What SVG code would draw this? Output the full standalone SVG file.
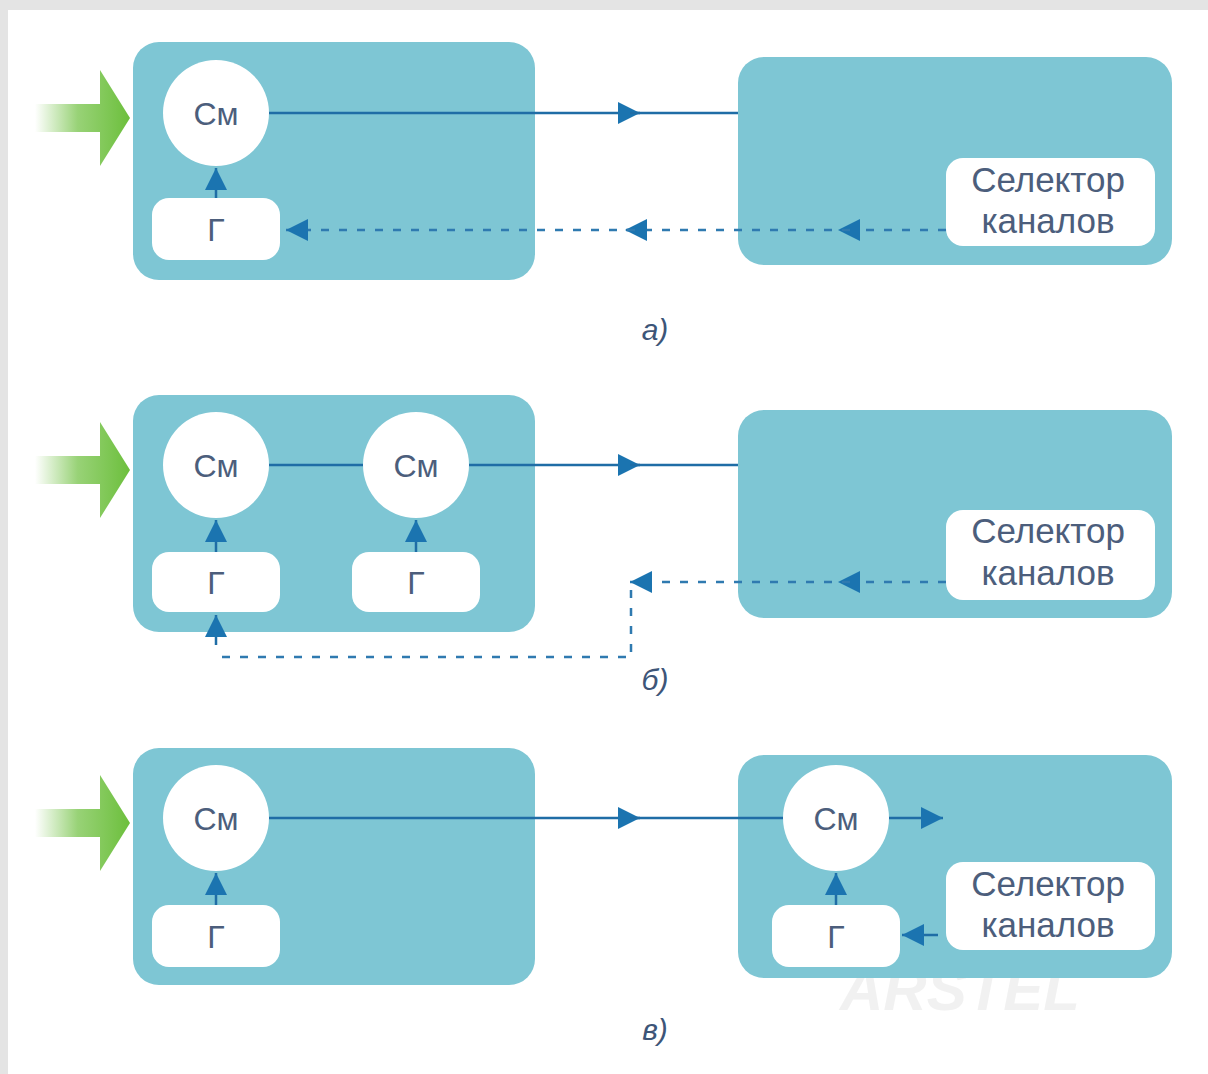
<svg xmlns="http://www.w3.org/2000/svg" width="1208" height="1074" viewBox="0 0 1208 1074">
<defs>
<linearGradient id="gArrow" x1="0" y1="0" x2="1" y2="0">
<stop offset="0" stop-color="#6cbf3c" stop-opacity="0"/>
<stop offset="0.45" stop-color="#6cbf3c" stop-opacity="0.7"/>
<stop offset="1" stop-color="#6cbf3c"/>
</linearGradient>
<marker id="ah" viewBox="0 0 10 10" refX="10" refY="5" markerWidth="22" markerHeight="22" markerUnits="userSpaceOnUse" orient="auto">
<path d="M0,0 L10,5 L0,10 z" fill="#1b74b0"/>
</marker>
<path id="green" d="M35,104 L100,104 L100,70 L130,118 L100,166 L100,132 L35,132 z"/>
</defs>
<style>
.box{fill:#7ec6d4}
.wb{fill:#ffffff}
.ln{stroke:#1f6da6;stroke-width:2.5;fill:none}
.dl{stroke:#2f7ab0;stroke-width:2.5;fill:none;stroke-dasharray:8 10}
.t{font-family:"Liberation Sans",Arial,sans-serif;fill:#4c5e7c;text-anchor:middle}
.cap{font-family:"Liberation Sans",Arial,sans-serif;font-style:italic;fill:#3d5578;font-size:30px;text-anchor:middle}
</style>
<rect x="0" y="0" width="1208" height="1074" fill="#ffffff"/>
<rect x="0" y="0" width="1208" height="10" fill="#e4e4e4"/>
<rect x="0" y="0" width="8" height="1074" fill="#e4e4e4"/>

<text x="960" y="1010" font-family="Liberation Sans, Arial, sans-serif" font-size="60" font-style="italic" font-weight="bold" fill="#d8d8d8" fill-opacity="0.35" text-anchor="middle">ARSTEL</text>

<!-- Panel a -->
<g id="a-input"><use href="#green" fill="url(#gArrow)"/></g>
<g id="a-left"><rect class="box" x="133" y="42" width="402" height="238" rx="26"/></g>
<g id="a-right"><rect class="box" x="738" y="57" width="434" height="208" rx="26"/></g>
<g id="a-cm"><circle class="wb" cx="216" cy="113" r="53"/><text class="t" x="216" y="125" font-size="32">См</text></g>
<g id="a-g"><rect class="wb" x="152" y="198" width="128" height="62" rx="17"/><text class="t" x="216" y="241" font-size="32">Г</text></g>
<g id="a-sel"><rect class="wb" x="946" y="158" width="209" height="88" rx="17"/><text class="t" x="1048" y="192" font-size="35">Селектор</text><text class="t" x="1048" y="233" font-size="35">каналов</text></g>

<!-- Panel b -->
<g id="b-input"><use href="#green" y="352" fill="url(#gArrow)"/></g>
<g id="b-left"><rect class="box" x="133" y="395" width="402" height="237" rx="26"/></g>
<g id="b-right"><rect class="box" x="738" y="410" width="434" height="208" rx="26"/></g>
<g id="b-cm1"><circle class="wb" cx="216" cy="465" r="53"/><text class="t" x="216" y="477" font-size="32">См</text></g>
<g id="b-cm2"><circle class="wb" cx="416" cy="465" r="53"/><text class="t" x="416" y="477" font-size="32">См</text></g>
<g id="b-g1"><rect class="wb" x="152" y="552" width="128" height="60" rx="17"/><text class="t" x="216" y="594" font-size="32">Г</text></g>
<g id="b-g2"><rect class="wb" x="352" y="552" width="128" height="60" rx="17"/><text class="t" x="416" y="594" font-size="32">Г</text></g>
<g id="b-sel"><rect class="wb" x="946" y="510" width="209" height="90" rx="17"/><text class="t" x="1048" y="543" font-size="35">Селектор</text><text class="t" x="1048" y="585" font-size="35">каналов</text></g>

<!-- Panel c -->
<g id="c-input"><use href="#green" y="705" fill="url(#gArrow)"/></g>
<g id="c-left"><rect class="box" x="133" y="748" width="402" height="237" rx="26"/></g>
<g id="c-right"><rect class="box" x="738" y="755" width="434" height="223" rx="26"/></g>
<g id="c-cm1"><circle class="wb" cx="216" cy="818" r="53"/><text class="t" x="216" y="830" font-size="32">См</text></g>
<g id="c-g1"><rect class="wb" x="152" y="905" width="128" height="62" rx="17"/><text class="t" x="216" y="948" font-size="32">Г</text></g>
<g id="c-cm2"><circle class="wb" cx="836" cy="818" r="53"/><text class="t" x="836" y="830" font-size="32">См</text></g>
<g id="c-g2"><rect class="wb" x="772" y="905" width="128" height="62" rx="17"/><text class="t" x="836" y="948" font-size="32">Г</text></g>
<g id="c-sel"><rect class="wb" x="946" y="862" width="209" height="88" rx="17"/><text class="t" x="1048" y="896" font-size="35">Селектор</text><text class="t" x="1048" y="937" font-size="35">каналов</text></g>

<!-- captions -->
<g id="captions">
<text class="cap" x="655" y="340">а)</text>
<text class="cap" x="655" y="690">б)</text>
<text class="cap" x="655" y="1040">в)</text>
</g>

<!-- connectors -->
<g id="connectors">
<!-- a -->
<line class="ln" x1="269" y1="113" x2="640" y2="113" marker-end="url(#ah)"/>
<line class="ln" x1="630" y1="113" x2="738" y2="113"/>
<line class="ln" x1="216" y1="198" x2="216" y2="168" marker-end="url(#ah)"/>
<line class="dl" x1="946" y1="230" x2="838" y2="230" marker-end="url(#ah)"/>
<line class="dl" x1="850" y1="230" x2="625" y2="230" marker-end="url(#ah)"/>
<line class="dl" x1="635" y1="230" x2="286" y2="230" marker-end="url(#ah)"/>
<!-- b -->
<line class="ln" x1="269" y1="465" x2="363" y2="465"/>
<line class="ln" x1="469" y1="465" x2="640" y2="465" marker-end="url(#ah)"/>
<line class="ln" x1="630" y1="465" x2="738" y2="465"/>
<line class="ln" x1="216" y1="552" x2="216" y2="520" marker-end="url(#ah)"/>
<line class="ln" x1="416" y1="552" x2="416" y2="520" marker-end="url(#ah)"/>
<line class="dl" x1="946" y1="582" x2="838" y2="582" marker-end="url(#ah)"/>
<line class="dl" x1="850" y1="582" x2="630" y2="582" marker-end="url(#ah)"/>
<polyline class="dl" points="631,590 631,657 222,657"/>
<line class="ln" x1="216" y1="645" x2="216" y2="615" marker-end="url(#ah)"/>
<!-- c -->
<line class="ln" x1="269" y1="818" x2="640" y2="818" marker-end="url(#ah)"/>
<line class="ln" x1="630" y1="818" x2="783" y2="818"/>
<line class="ln" x1="216" y1="905" x2="216" y2="873" marker-end="url(#ah)"/>
<line class="ln" x1="889" y1="818" x2="943" y2="818" marker-end="url(#ah)"/>
<line class="ln" x1="836" y1="905" x2="836" y2="873" marker-end="url(#ah)"/>
<line class="ln" x1="938" y1="935" x2="902" y2="935" marker-end="url(#ah)"/>
</g>
</svg>
